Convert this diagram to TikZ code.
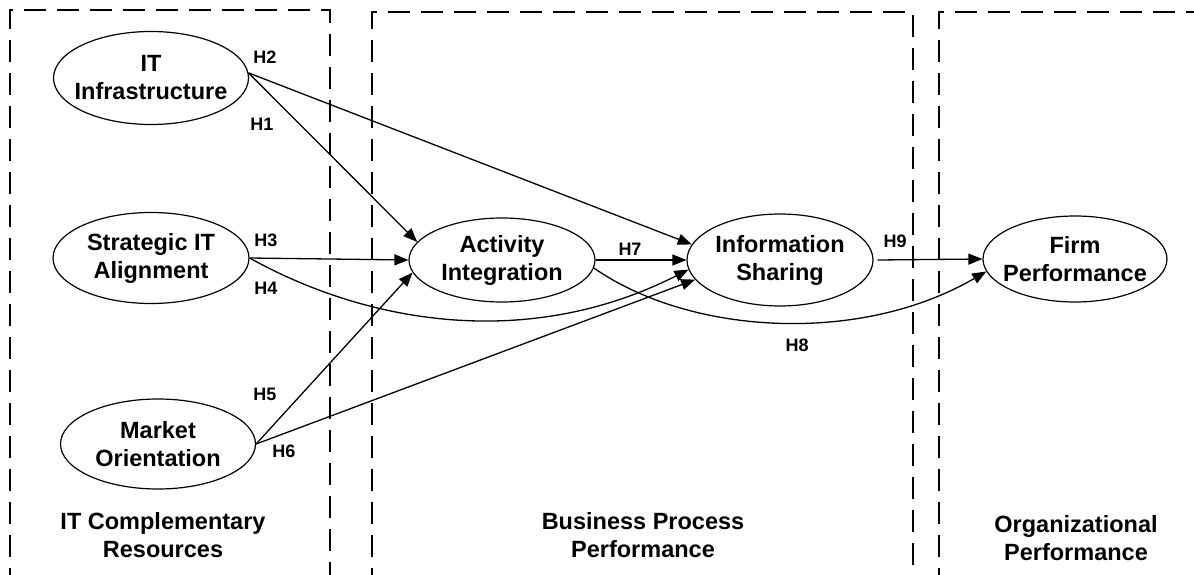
\documentclass[tikz,border=0pt]{standalone}
\usepackage{fontspec}
\setmainfont{Liberation Sans}
\usetikzlibrary{shapes.geometric,arrows.meta}

\begin{document}
\begin{tikzpicture}[x=1pt, y=-1pt,
                    main/.style = {draw, ellipse, line width=1.2pt, inner xsep=-25pt, inner ysep=0pt, align=center, font=\fontsize{23.5}{28}\selectfont\bfseries},
                    hyp/.style = {font=\fontsize{18}{20}\selectfont\bfseries},
                    grp/.style = {align=center, font=\fontsize{23.5}{28}\selectfont\bfseries},
                    frame/.style = {line width=1.4pt, dash pattern=on 22pt off 11pt},
                    link/.style = {line width=1.3pt, -{Triangle[length=14pt,width=11pt]}}]
                    \useasboundingbox (0,0) rectangle (1194,575);
                    \clip (0,0) rectangle (1194,575);

                    % dashed groups
                    \draw[frame] (10,590) -- (10,10) -- (330,10) -- (330,590);
                    \draw[frame] (372,590) -- (372,12) -- (913,12) -- (913,590);
                    \draw[frame] (939,590) -- (939,12) -- (1210,12);

                    \node[main, minimum width=195pt, minimum height=93pt] (1) at (151,78) {IT\\Infrastructure};
                    \node[main, minimum width=196pt, minimum height=91pt] (2) at (151,258) {Strategic IT\\Alignment};
                    \node[main, minimum width=195pt, minimum height=90pt] (3) at (158,444) {Market\\Orientation};

                    \node[main, minimum width=186pt, minimum height=84pt] (4) at (502,260) {Activity\\Integration};
                    \node[main, minimum width=186pt, minimum height=92pt] (5) at (780,260) {Information\\Sharing};

                    \node[main, minimum width=184pt, minimum height=86pt] (6) at (1075,259) {Firm\\Performance};

                    \node[grp] (g1) at (163,535) {IT Complementary\\Resources};
                    \node[grp] (g2) at (643,535) {Business Process\\Performance};
                    \node[grp] (g3) at (1076,538) {Organizational\\Performance};

                    \node[hyp] (h1) at (262,124) {H1};
                    \node[hyp] (h2) at (265,57) {H2};
                    \node[hyp] (h3) at (266,240) {H3};
                    \node[hyp] (h4) at (266,288) {H4};
                    \node[hyp] (h5) at (265,394) {H5};
                    \node[hyp] (h6) at (284,451) {H6};
                    \node[hyp] (h7) at (630,249) {H7};
                    \node[hyp] (h8) at (797,345) {H8};
                    \node[hyp] (h9) at (895,241) {H9};

                    \draw[link] (1.3) -- (4.168);
                    \draw[link] (1.3) -- (5.170);
                    \draw[link] (2.east) -- (4.west);
                    \draw[link] (2.east) .. controls (370,325) and (530,350) .. (5.186);
                    \draw[link] (3.east) -- (4.188);
                    \draw[link] (3.east) -- (5.193);
                    \draw[link] (4.east) -- (5.west);
                    \draw[link] (4.-5) .. controls (690,335) and (860,345) .. (6.188);
                    \draw[link] ([xshift=4pt]5.east) -- (6.west);
                \end{tikzpicture}
\end{document}
